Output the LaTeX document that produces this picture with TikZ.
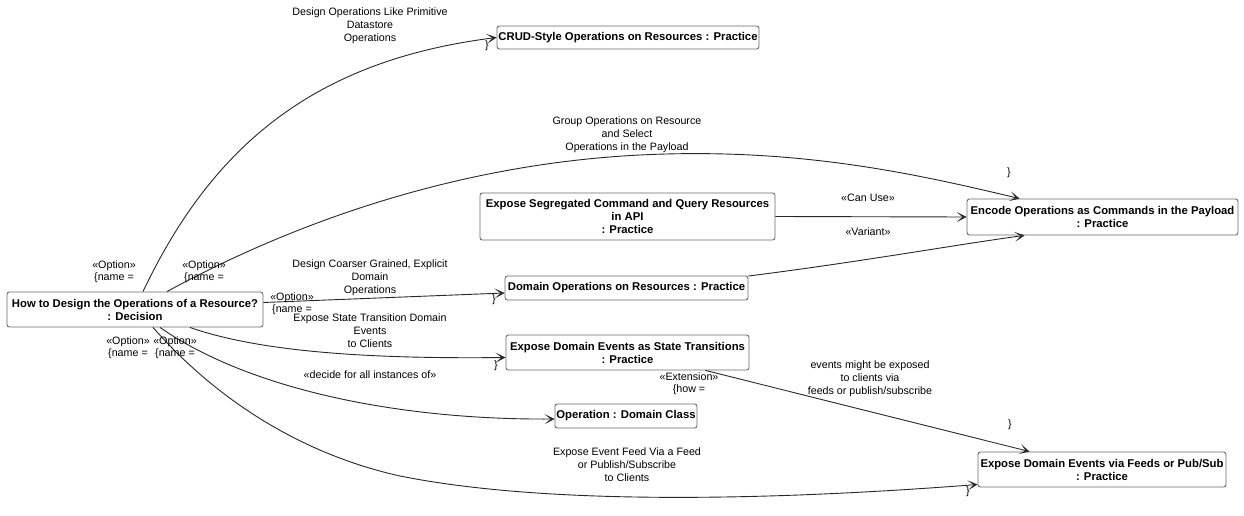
\documentclass[tikz,border=0pt]{standalone}
\usepackage{fontspec}
\setmainfont{Liberation Sans}
\usetikzlibrary{arrows.meta}
\definecolor{boxline}{RGB}{105,105,105}
\definecolor{connc}{RGB}{40,40,40}
\begin{document}
\begin{tikzpicture}[x=1pt,y=-1pt,
  box/.style={draw=boxline, rounded corners=2.5pt, line width=0.9pt, fill=white, inner sep=0pt, align=center, font=\bfseries\fontsize{11.3}{13}\selectfont},
  lbl/.style={inner sep=0pt, align=center, font=\fontsize{10.7}{13}\selectfont},
  slbl/.style={inner sep=0pt, align=center, font=\fontsize{10.7}{12}\selectfont},
  conn/.style={draw=connc, line width=0.9pt, -{Stealth[length=10pt,width=10pt,inset=6pt,line width=0.6pt]}}]
\useasboundingbox[fill=white] (0,0) rectangle (1244,516);

% boxes
\node[box, minimum width=256pt, minimum height=35pt] (dec) at (135,309.5) {How to Design the Operations of a Resource?\\: Decision};
\node[box, minimum width=262pt, minimum height=23pt] (crud) at (628,37.5) {CRUD-Style Operations on Resources : Practice};
\node[box, minimum width=271pt, minimum height=36pt] (enc) at (1102.5,217) {Encode Operations as Commands in the Payload\\: Practice};
\node[box, minimum width=295pt, minimum height=47pt] (seg) at (627.5,216.5) {Expose Segregated Command and Query Resources\\in API\\: Practice};
\node[box, minimum width=243pt, minimum height=24pt] (domops) at (626.5,288) {Domain Operations on Resources : Practice};
\node[box, minimum width=243pt, minimum height=35pt] (state) at (627.5,352.5) {Expose Domain Events as State Transitions\\: Practice};
\node[box, minimum width=142pt, minimum height=24pt] (dcl) at (626,416) {Operation : Domain Class};
\node[box, minimum width=248pt, minimum height=35pt] (feeds) at (1102,469.5) {Expose Domain Events via Feeds or Pub/Sub\\: Practice};

% connectors
\draw[conn] ([xshift=8pt]dec.north) .. controls (215,140) and (320,60) .. (crud.west);
\draw[conn] ([xshift=32pt]dec.north) .. controls (317,210) and (480,163) .. (640,155)
   .. controls (800,147) and (920,175) .. ([xshift=53pt]enc.north west);
\draw[conn] ([yshift=7pt]dec.east) -- ([yshift=-5pt]domops.west);
\draw[conn] ([xshift=55pt]dec.south) .. controls (260,352) and (370,359) .. ([yshift=-5pt]state.west);
\draw[conn] ([xshift=25pt]dec.south) .. controls (250,390) and (400,420) .. ([yshift=-3pt]dcl.west);
\draw[conn] ([xshift=18pt]dec.south) .. controls (223,407) and (310,456) .. (400,476)
   .. controls (550,506) and (776,500) .. ([yshift=-15pt]feeds.west);
\draw[conn] (seg.east) -- (enc.west);
\draw[conn] ([yshift=12pt]domops.east) .. controls (860,262) and (960,244) .. ([xshift=58pt]enc.south west);
\draw[conn] ([xshift=78pt]state.south) -- ([xshift=52pt]feeds.north west);

% labels
\node[lbl] (l1) at (370,26) {Design Operations Like Primitive\\Datastore\\Operations};
\node[lbl] (l2) at (627,135) {Group Operations on Resource\\and Select\\Operations in the Payload};
\node[lbl] (l3) at (370,278) {Design Coarser Grained, Explicit\\Domain\\Operations};
\node[lbl] (l4) at (370,331) {Expose State Transition Domain\\Events\\to Clients};
\node[lbl] (l5) at (370,375) {«decide for all instances of»};
\node[lbl] (l6) at (627,465) {Expose Event Feed Via a Feed\\or Publish/Subscribe\\to Clients};
\node[lbl] (l7) at (868,198) {«Can Use»};
\node[lbl] (l8) at (868,232) {«Variant»};
\node[slbl] (l9) at (689,384) {«Extension»\\\{how =};
\node[lbl] (l10) at (870,379) {events might be exposed\\to clients via\\feeds or publish/subscribe};

\node[slbl] (o1) at (114,272) {«Option»\\\{name =};
\node[slbl] (o2) at (204,272) {«Option»\\\{name =};
\node[slbl] (o3) at (292,304) {«Option»\\\{name =};
\node[slbl] (o4) at (128,348) {«Option»\\\{name =};
\node[slbl] (o5) at (175,348) {«Option»\\\{name =};

\node[lbl] (b1) at (487,46) {\}};
\node[lbl] (b2) at (1009,173) {\}};
\node[lbl] (b3) at (494,300) {\}};
\node[lbl] (b4) at (496,366) {\}};
\node[lbl] (b5) at (1010,425) {\}};
\node[lbl] (b6) at (968,492) {\}};
\end{tikzpicture}
\end{document}
